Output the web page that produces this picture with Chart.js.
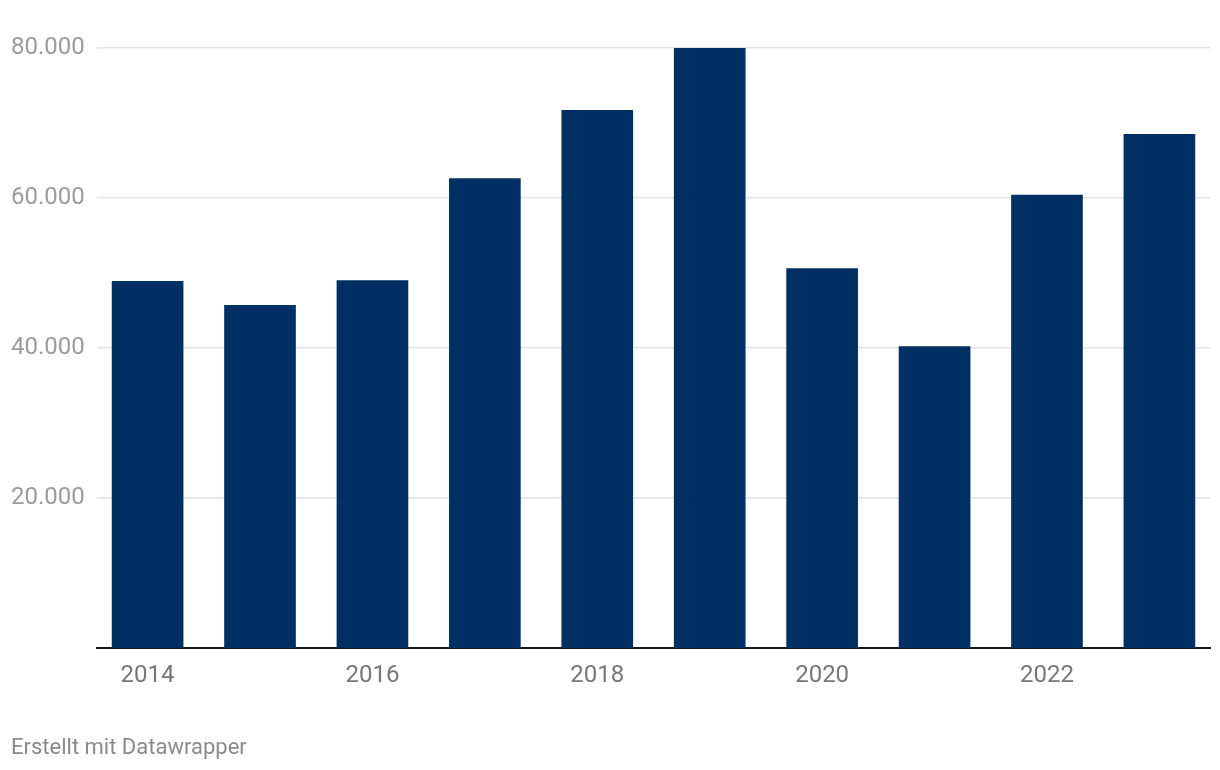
<!DOCTYPE html>
<html>
<head>
<meta charset="utf-8">
<script src="https://cdn.jsdelivr.net/npm/chart.js@4"></script>
<style>
  html, body { margin: 0; padding: 0; background: #fff; }
  #wrap { position: relative; width: 1220px; height: 770px; }
  #footer {
    position: absolute; left: 11px; top: 736px;
    font-family: Roboto, sans-serif; font-size: 22px; line-height: 22px;
    color: #8a8a8a;
  }
</style>
</head>
<body>
<div id="wrap">
  <canvas id="chart" width="1220" height="770"></canvas>
  <div id="footer">Erstellt mit Datawrapper</div>
</div>
<script>
// data
const years = [2014, 2015, 2016, 2017, 2018, 2019, 2020, 2021, 2022, 2023];
const values = [48900, 45700, 49000, 62600, 71700, 80000, 50600, 40200, 60400, 68500];
const xTicks = [2014, 2016, 2018, 2020, 2022];
const yTicks = [20000, 40000, 60000, 80000];
const yTickLabels = ['20.000', '40.000', '60.000', '80.000'];

const barColor = '#003063';

var ctx = document.getElementById('chart').getContext('2d');
var chart = new Chart(ctx, {
    type: 'bar',
    data: {
        datasets: [{
            data: years.map((y, i) => ({ x: y, y: values[i] })),
            backgroundColor: barColor,
            borderWidth: 0,
            barThickness: 71
        }]
    },
    options: {
        responsive: false,
        animation: false,
        events: [],
        layout: {
            padding: { left: 11, right: 10, top: 48, bottom: 62 }
        },
        plugins: {
            legend: { display: false },
            tooltip: { enabled: false }
        },
        scales: {
            x: {
                type: 'linear',
                offset: false,
                min: 2013.55,
                max: 2023.45,
                afterBuildTicks: (scale) => {
                    scale.ticks = xTicks.map(v => ({ value: v }));
                },
                afterFit: (scale) => { scale.height = 60; },
                grid: { display: false, drawTicks: false },
                border: { display: true, color: '#1a1a1a', width: 2 },
                ticks: {
                    padding: 14,
                    color: '#777777',
                    font: { family: 'Roboto', size: 24 },
                    callback: (v) => String(v)
                }
            },
            y: {
                min: 0,
                max: 80000,
                afterBuildTicks: (scale) => {
                    scale.ticks = yTicks.map(v => ({ value: v }));
                },
                afterFit: (scale) => { scale.width = 86; },
                grid: { color: '#e3e3e3', lineWidth: 1.5, drawTicks: false },
                border: { display: false },
                ticks: {
                    crossAlign: 'far',
                    padding: 0,
                    color: '#9b9b9b',
                    font: { family: 'Roboto', size: 24 },
                    callback: (v) => {
                        var i = yTicks.indexOf(v);
                        return i >= 0 ? yTickLabels[i] : '';
                    }
                }
            }
        }
    }
});
</script>
</body>
</html>
